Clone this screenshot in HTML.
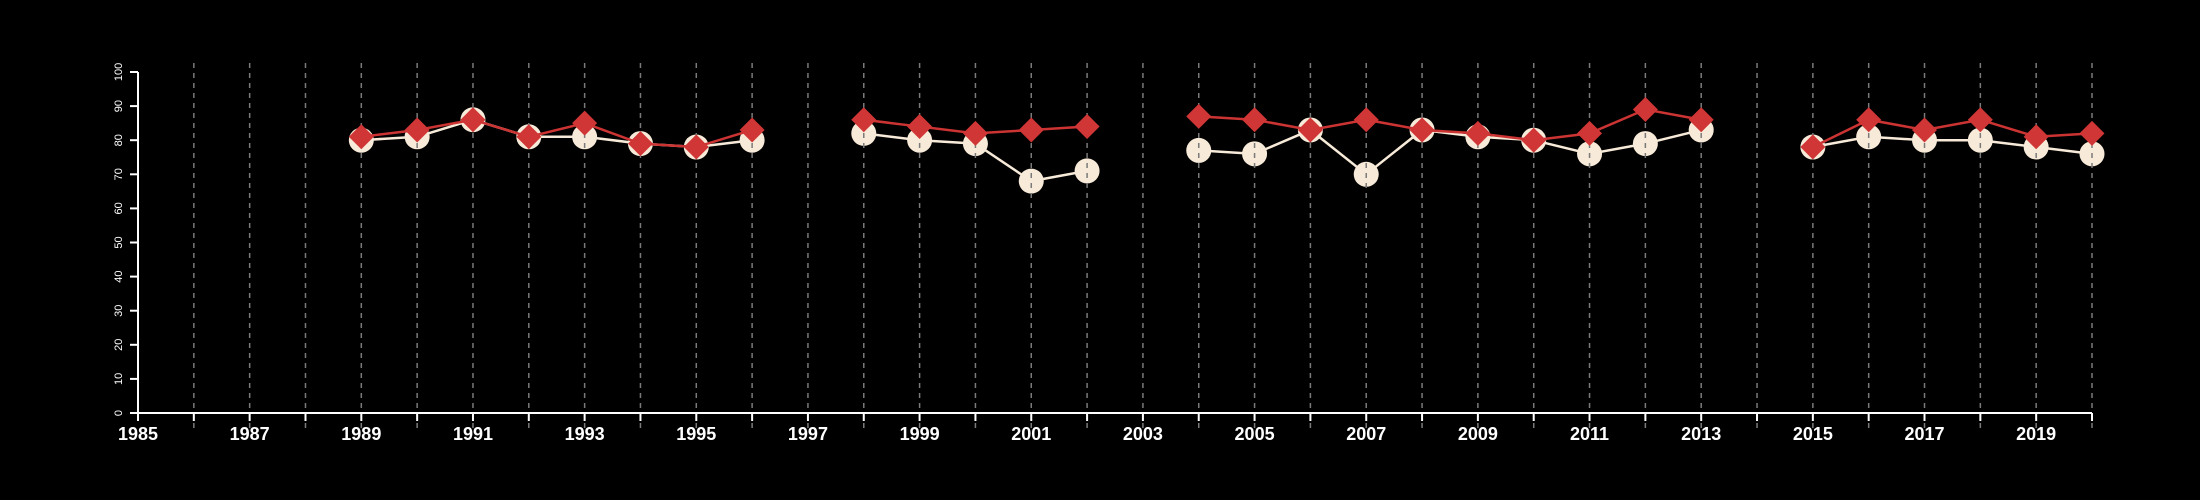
<!DOCTYPE html>
<html><head><meta charset="utf-8"><style>html,body{margin:0;background:#000;}svg{display:block;}</style></head>
<body>
<svg id="chart" width="2200" height="500" xmlns="http://www.w3.org/2000/svg" style="background:#000;font-family:'Liberation Sans',sans-serif;">
<rect width="2200" height="500" fill="#000"/>
</svg>
<script>
const years = [1989,1990,1991,1992,1993,1994,1995,1996,1997,1998,1999,2000,2001,2002,2003,2004,2005,2006,2007,2008,2009,2010,2011,2012,2013,2014,2015,2016,2017,2018,2019,2020];
const seriesA = [80,81,86,81,81,79,78,80,null,82,80,79,68,71,null,77,76,83,70,83,81,80,76,79,83,null,78,81,80,80,78,76];
const seriesB = [81,83,86,81,85,79,78,83,null,86,84,82,83,84,null,87,86,83,86,83,82,80,82,89,86,null,78,86,83,86,81,82];
const yTicks = [0,10,20,30,40,50,60,70,80,90,100];
const xLabels = [1985,1987,1989,1991,1993,1995,1997,1999,2001,2003,2005,2007,2009,2011,2013,2015,2017,2019];

const svg = document.getElementById('chart');
const NS = 'http://www.w3.org/2000/svg';
const x = v => 138 + (v - 1985) * (2092 - 138) / 35;
const y = v => 413 - v * (413 - 72) / 100;
function mk(tag, attrs, parent) {
  const e = document.createElementNS(NS, tag);
  for (const k in attrs) e.setAttribute(k, attrs[k]);
  (parent || svg).appendChild(e);
  return e;
}
function segments(vals) {
  const segs = []; let cur = [];
  vals.forEach((v, i) => { if (v === null) { if (cur.length) segs.push(cur); cur = []; } else cur.push([x(years[i]), y(v)]); });
  if (cur.length) segs.push(cur);
  return segs;
}
const gA = mk('g', {});


segments(seriesA).forEach(s => {
  const p = mk('polyline', {points: s.map(q => q.join(',')).join(' '), fill: 'none', stroke: '#f7ead8', 'stroke-width': 2.5}, gA);
  
  
});
seriesA.forEach((v, i) => {
  if (v === null) return;
  const c = mk('circle', {cx: x(years[i]), cy: y(v), r: 12.5, fill: '#f7ead8'}, gA);
  
  
});
for (let yr = 1986; yr <= 2020; yr++) {
  const l = mk('line', {x1: x(yr), x2: x(yr), y1: 63, y2: 428, stroke: '#7a7a7a', 'stroke-width': 1.5, 'stroke-dasharray': '5,5'});
  
  
}
const gB = mk('g', {});


segments(seriesB).forEach(s => {
  const p = mk('polyline', {points: s.map(q => q.join(',')).join(' '), fill: 'none', stroke: '#cc3333', 'stroke-width': 2.5}, gB);
  
  
});
seriesB.forEach((v, i) => {
  if (v === null) return;
  const cx = x(years[i]), cy = y(v), d = 12.5;
  const p = mk('polygon', {points: `${cx},${cy-d} ${cx+d},${cy} ${cx},${cy+d} ${cx-d},${cy}`, fill: '#d13636'}, gB);
  
  
});
const ax = mk('line', {x1: 138, x2: 2092, y1: 413, y2: 413, stroke: '#fff', 'stroke-width': 2});


const ay = mk('line', {x1: 138, x2: 138, y1: 72, y2: 413, stroke: '#fff', 'stroke-width': 2});


for (let yr = 1985; yr <= 2020; yr++) {
  const t = mk('line', {x1: x(yr), x2: x(yr), y1: 413, y2: 421, stroke: '#fff', 'stroke-width': 2});
  
  
}
xLabels.forEach(v => {
  const t = mk('text', {x: x(v), y: 440, fill: '#fff', 'font-size': 18, 'font-weight': 'bold', 'text-anchor': 'middle'});
  t.textContent = v;
  
  
});
yTicks.forEach(v => {
  const t = mk('line', {x1: 130, x2: 138, y1: y(v), y2: y(v), stroke: '#fff', 'stroke-width': 2});
  
  
  const tx = mk('text', {x: 0, y: 0, fill: '#fff', 'font-size': 11, 'text-anchor': 'middle', transform: `translate(122,${y(v)}) rotate(-90)`});
  tx.textContent = v;
  
  
});
</script>
</body></html>
